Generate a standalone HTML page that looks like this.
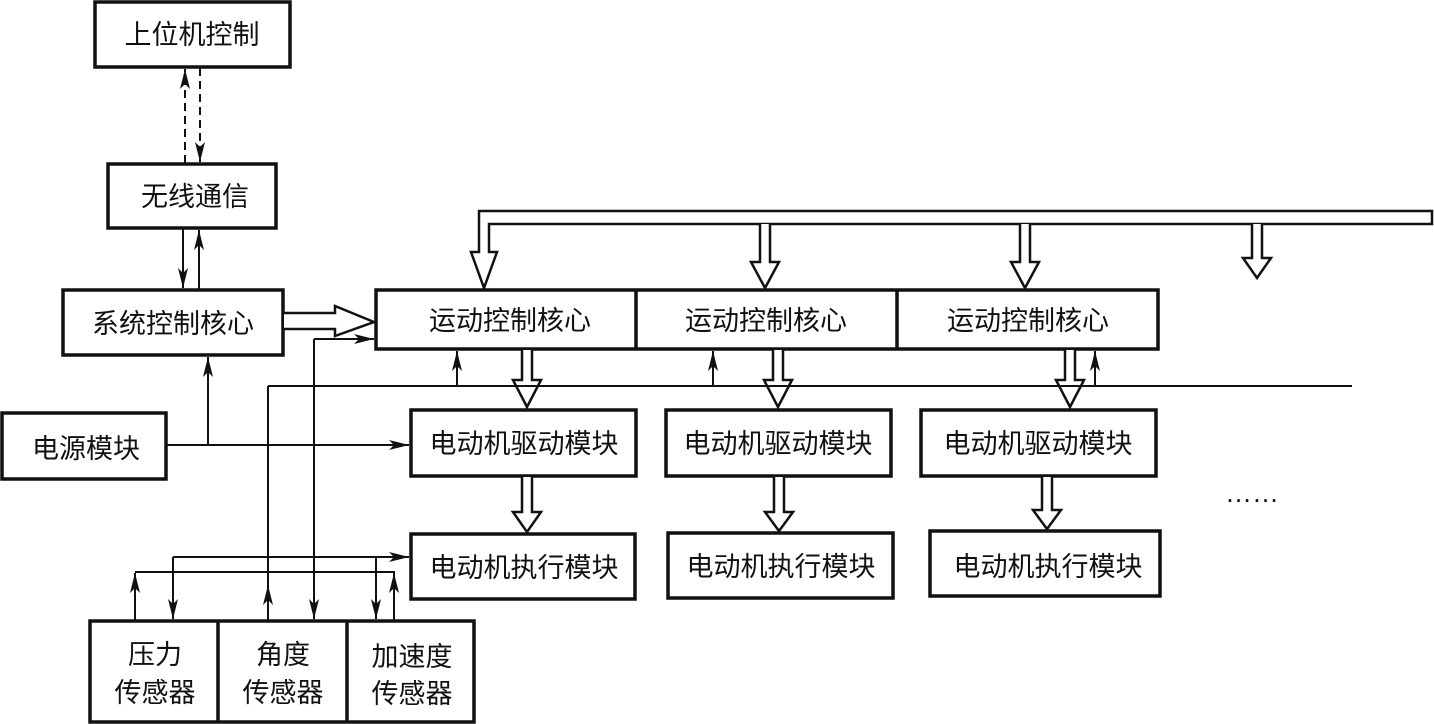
<!DOCTYPE html>
<html><head><meta charset="utf-8"><style>
body{margin:0;background:#fff}
svg{display:block}
text{font-family:"Liberation Sans","Noto Sans CJK SC",sans-serif;font-size:27px;fill:#111}
</style></head><body>
<svg width="1434" height="724" viewBox="0 0 1434 724" xmlns="http://www.w3.org/2000/svg">
<defs>
<marker id="a" viewBox="0 0 20 10" refX="20" refY="5" markerWidth="20" markerHeight="10" markerUnits="userSpaceOnUse" orient="auto">
<path d="M0,0 L20,5 L0,10 L5,5 Z" fill="#111"/></marker>
</defs>
<g fill="none" stroke="#111" stroke-width="3.5">
<rect x="95" y="2" width="195" height="65"/>
<rect x="108" y="164" width="168" height="64"/>
<rect x="63" y="290" width="220" height="65"/>
<rect x="2" y="413" width="164" height="66"/>
<rect x="376" y="290" width="782" height="59"/>
<line x1="636" y1="290" x2="636" y2="349"/>
<line x1="897" y1="290" x2="897" y2="349"/>
<rect x="411" y="410" width="225" height="66"/>
<rect x="666" y="410" width="225" height="66"/>
<rect x="921" y="410" width="235" height="66"/>
<rect x="411" y="534" width="224" height="65"/>
<rect x="668" y="533" width="225" height="65"/>
<rect x="930" y="531" width="230" height="65"/>
<rect x="90" y="621" width="384" height="101"/>
<line x1="218" y1="621" x2="218" y2="722"/>
<line x1="347" y1="621" x2="347" y2="722"/>
</g>
<g fill="#fff" stroke="#111" stroke-width="2.5" stroke-linejoin="miter">
<!-- bus -->
<path d="M1432,211 L479,211 L479,252 L471,252 L484,288 L497,252 L489,252 L489,224 L1432,224 Z"/>
<path d="M760,224 L760,262 L751,262 L765,288 L779,262 L770,262 L770,224"/>
<path d="M1020,224 L1020,262 L1011,262 L1025,288 L1039,262 L1030,262 L1030,224"/>
<path d="M1252,224 L1252,258 L1243,258 L1257,278 L1271,258 L1262,258 L1262,224"/>
<!-- system to motion -->
<path d="M284,313 L335,313 L335,306 L374,322 L335,336 L335,329 L284,329"/>
<!-- core to driver -->
<path d="M522,350 L522,380 L513,380 L527,407 L541,380 L532,380 L532,350"/>
<path d="M773,350 L773,380 L764,380 L778,407 L792,380 L783,380 L783,350"/>
<path d="M1065,350 L1065,380 L1056,380 L1070,407 L1084,380 L1075,380 L1075,350"/>
<!-- driver to exec -->
<path d="M522,477 L522,512 L513,512 L527,532 L541,512 L532,512 L532,477"/>
<path d="M774,477 L774,512 L765,512 L779,531 L793,512 L784,512 L784,477"/>
<path d="M1042,477 L1042,510 L1033,510 L1047,529 L1061,510 L1052,510 L1052,477"/>
</g>
<g fill="none" stroke="#111" stroke-width="2">
<line x1="185" y1="163" x2="185" y2="69" stroke-dasharray="8,5" marker-end="url(#a)"/>
<line x1="200" y1="68" x2="200" y2="162" stroke-dasharray="8,5" marker-end="url(#a)"/>
<line x1="183" y1="229" x2="183" y2="288" marker-end="url(#a)"/>
<line x1="199" y1="289" x2="199" y2="230" marker-end="url(#a)"/>
<line x1="166" y1="445" x2="409" y2="445" marker-end="url(#a)"/>
<line x1="208" y1="445" x2="208" y2="357" marker-end="url(#a)"/>
<line x1="268" y1="386" x2="1352" y2="386"/>
<line x1="268" y1="620" x2="268" y2="386"/>
<line x1="268" y1="620" x2="268" y2="585" marker-end="url(#a)"/>
<line x1="314" y1="339" x2="314" y2="619" marker-end="url(#a)"/>
<line x1="314" y1="339" x2="374" y2="339" marker-end="url(#a)"/>
<line x1="457" y1="386" x2="457" y2="351" marker-end="url(#a)"/>
<line x1="713" y1="386" x2="713" y2="351" marker-end="url(#a)"/>
<line x1="1095" y1="386" x2="1095" y2="351" marker-end="url(#a)"/>
<line x1="173" y1="557" x2="409" y2="557" marker-end="url(#a)"/>
<line x1="173" y1="557" x2="173" y2="619" marker-end="url(#a)"/>
<line x1="135" y1="572" x2="395" y2="572"/>
<line x1="135" y1="620" x2="135" y2="573" marker-end="url(#a)"/>
<line x1="376" y1="557" x2="376" y2="619" marker-end="url(#a)"/>
<line x1="394" y1="620" x2="394" y2="573" marker-end="url(#a)"/>
</g>
<g text-anchor="middle">
<text x="192" y="44">上位机控制</text>
<text x="195" y="206">无线通信</text>
<text x="173" y="333">系统控制核心</text>
<text x="86" y="458">电源模块</text>
<text x="510" y="330">运动控制核心</text>
<text x="766" y="330">运动控制核心</text>
<text x="1028" y="330">运动控制核心</text>
<text x="524" y="453">电动机驱动模块</text>
<text x="778" y="453">电动机驱动模块</text>
<text x="1038" y="453">电动机驱动模块</text>
<text x="524" y="577">电动机执行模块</text>
<text x="781" y="576">电动机执行模块</text>
<text x="1048" y="576">电动机执行模块</text>
<text x="155" y="664">压力</text>
<text x="155" y="702">传感器</text>
<text x="283" y="664">角度</text>
<text x="283" y="702">传感器</text>
<text x="412" y="666">加速度</text>
<text x="412" y="703">传感器</text>
<text x="1252" y="502">……</text>
</g>
</svg>
</body></html>
